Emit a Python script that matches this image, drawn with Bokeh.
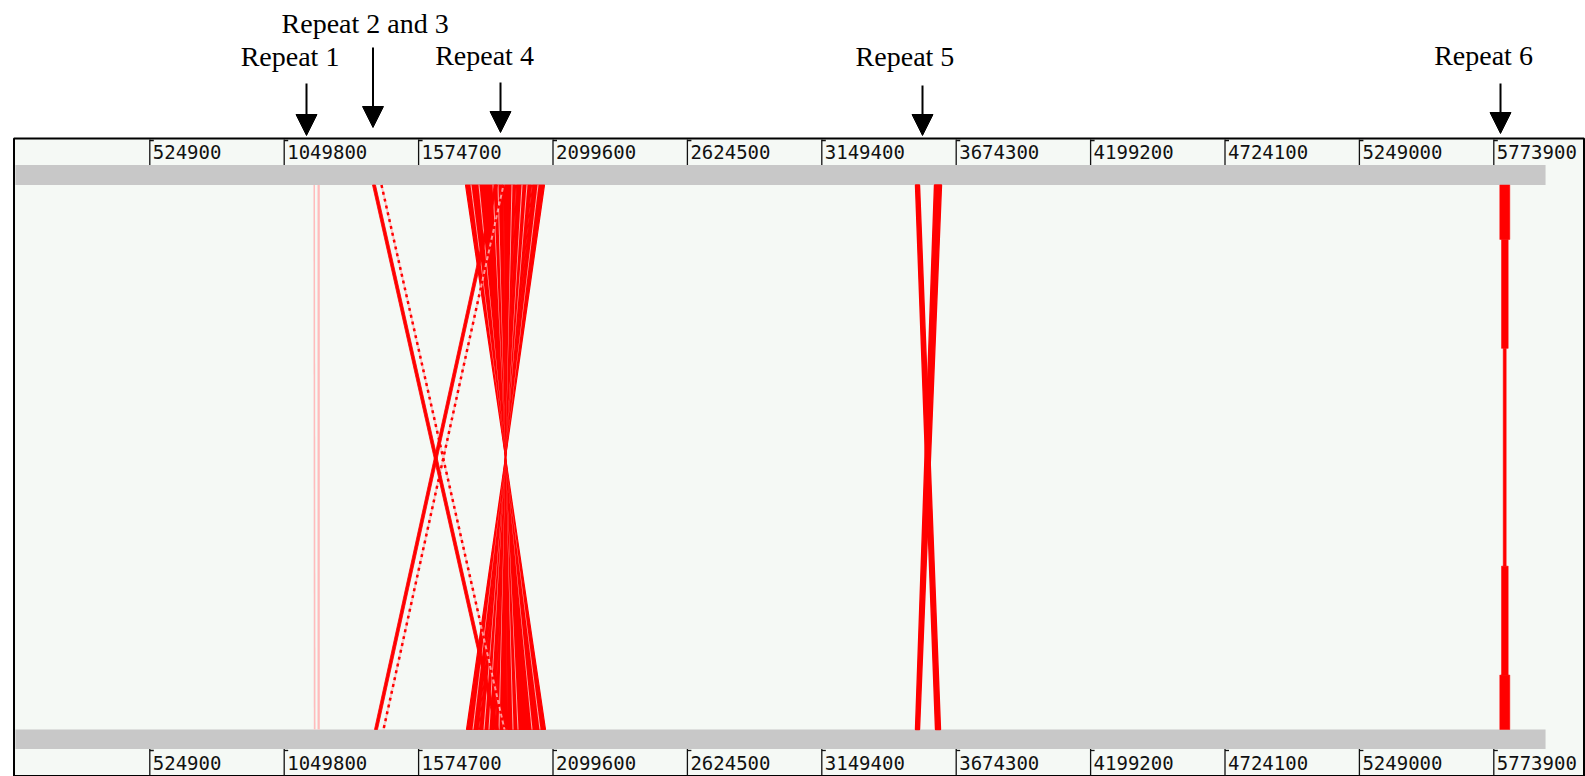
from bokeh.plotting import figure
from bokeh.models import Range1d, Arrow, NormalHead
from bokeh.core.properties import value
from bokeh.embed import file_html
from bokeh.resources import INLINE

# ---------------- data (base pairs) ----------------
SEQ_LEN = 5_976_000
tick_values = [524900, 1049800, 1574700, 2099600, 2624500, 3149400,
               3674300, 4199200, 4724100, 5249000, 5773900]
tick_labels = [str(v) for v in tick_values]

# matches: (top_start, top_end, bottom_start, bottom_end)
repeat1_matches = [(1164200, 1170100, 1165400, 1172000),
                   (1179900, 1188800, 1179900, 1188800)]
repeat23_solid = [(1394700, 1406400, 1875000, 1886700),
                  (1871100, 1882800, 1402500, 1414200)]
repeat23_dotted = [(1425900, 1433700, 1906300, 1914100),
                   (1902400, 1910200, 1433700, 1441500)]
repeat4_red = [(1757900, 1777400, 2050800, 2070300),
               (1781300, 1808600, 2019600, 2046900),
               (1812500, 1863300, 1964900, 2015700),
               (1867200, 1882800, 1945400, 1961000),
               (1886700, 1906300, 1921900, 1941500),
               (1910200, 1937500, 1890700, 1918000),
               (1941400, 1953100, 1875100, 1886800),
               (1957000, 1976600, 1851600, 1871200),
               (1980500, 1996100, 1832100, 1847700),
               (2000000, 2015600, 1812600, 1828200),
               (2019500, 2039100, 1789100, 1808700),
               (2043000, 2066400, 1761800, 1785200)]
repeat4_pale = [(1777400, 1781300, 2046900, 2050800),
                (1808600, 1812500, 2015700, 2019600),
                (1863300, 1867200, 1961000, 1964900),
                (1882800, 1886700, 1941500, 1945400),
                (1937500, 1941400, 1886800, 1890700),
                (1976600, 1980500, 1847700, 1851600),
                (1996100, 2000000, 1828200, 1832100),
                (2039100, 2043000, 1785200, 1789100)]
repeat5_matches = [(3515300, 3531000, 3593500, 3613000),
                   (3589500, 3616900, 3515300, 3531000)]
# repeat 6: bands along the comparison (fraction top->bottom) and their extent
repeat6_band_edges = [0.0, 0.10, 0.30, 0.70, 0.90, 1.0]
repeat6_band_start = [5797300, 5804000, 5810600, 5804000, 5797300]
repeat6_band_end = [5836400, 5830100, 5822300, 5830100, 5836400]

repeat_names = ["Repeat 1", "Repeat 2 and 3", "Repeat 4", "Repeat 5", "Repeat 6"]
repeat_arrow_bp = [1136900, 1396600, 1894600, 3542700, 5800100]
repeat_label_bp = [1072500, 1365800, 1832100, 3474300, 5733700]

# ---------------- layout ----------------
W, H = 1585, 776
BP_PER_PX = 524900 / 134.4
ORIGIN_PX = 14.9


def bp_at(px):
    return (px - ORIGIN_PX) * BP_PER_PX


RED = "#ff0000"
PALE = "#ffbcbc"
GREY = "#c8c8c8"
BG = "#f5f9f5"

TOP_Y, BOT_Y = 184.5, 729.0

p = figure(width=W, height=H, output_backend="svg", toolbar_location=None,
           x_range=Range1d(bp_at(0), bp_at(W)), y_range=Range1d(H, 0),
           x_axis_location=None, y_axis_location=None, min_border=0)
p.grid.visible = False
p.outline_line_color = None
p.background_fill_color = "white"
p.border_fill_color = "white"

# comparison box
p.quad(left=[bp_at(13.5)], right=[bp_at(1583.5)], top=[138.0], bottom=[775.5],
       fill_color=BG, line_color="black", line_width=2)

# sequence bars
p.quad(left=[0, 0], right=[SEQ_LEN, SEQ_LEN], top=[164.5, 729.0], bottom=[184.5, 748.5],
       fill_color=GREY, line_color=None)


def polys(matches, inverted):
    xs, ys = [], []
    for ts, te, bs, be in matches:
        if inverted:
            xs.append([ts, te, bs, be])
        else:
            xs.append([ts, te, be, bs])
        ys.append([TOP_Y, TOP_Y, BOT_Y, BOT_Y])
    return xs, ys


# repeat 1 (pale, direct)
xs, ys = polys(repeat1_matches, False)
p.patches(xs, ys, fill_color=PALE, line_color=None)

# repeat 4 hourglass (inverted)
xs, ys = polys(repeat4_red, True)
p.patches(xs, ys, fill_color=RED, line_color=RED, line_width=1.2)
xs, ys = polys(repeat4_pale, True)
p.patches(xs, ys, fill_color=PALE, line_color=None, fill_alpha=0.9)

# repeat 2 and 3 crossing lines
xs, ys = polys(repeat23_dotted, False)
p.patches(xs, ys, fill_color=PALE, line_color=None, fill_alpha=0.8)
p.segment(x0=[(m[0] + m[1]) / 2 for m in repeat23_dotted], y0=[TOP_Y] * 2,
          x1=[(m[2] + m[3]) / 2 for m in repeat23_dotted], y1=[BOT_Y] * 2,
          line_color=RED, line_width=2.5, line_dash="3 4")
xs, ys = polys(repeat23_solid, False)
p.patches(xs, ys, fill_color=RED, line_color=RED, line_width=0.8)

# repeat 5
xs, ys = polys(repeat5_matches, False)
p.patches(xs, ys, fill_color=RED, line_color=RED, line_width=1.4)

# repeat 6 bands
band_top = [TOP_Y + f * (BOT_Y - TOP_Y) for f in repeat6_band_edges[:-1]]
band_bot = [TOP_Y + f * (BOT_Y - TOP_Y) for f in repeat6_band_edges[1:]]
p.quad(left=repeat6_band_start, right=repeat6_band_end, top=band_top, bottom=band_bot,
       fill_color=RED, line_color=RED, line_width=0.5)

# ticks (top and bottom)
stub = 4 * BP_PER_PX
n = len(tick_values)
for y0, y1, ystub, ylab in [(139.0, 164.5, 140.0, 151.0), (748.5, 775.0, 750.0, 762.0)]:
    p.segment(x0=tick_values, y0=[y0] * n, x1=tick_values, y1=[y1] * n,
              line_color="#111111", line_width=1.3)
    p.segment(x0=tick_values, y0=[ystub] * n, x1=[t + stub for t in tick_values], y1=[ystub] * n,
              line_color="#111111", line_width=1.3)
    p.text(x=tick_values, y=[ylab] * n, text=tick_labels, x_offset=3,
           text_font=value("DejaVu Sans Mono"), text_font_size="19px",
           text_color="#111111", text_align="left", text_baseline="middle")

# repeat annotations
arrow_top = [83, 47, 82, 85, 83]
arrow_tip = [135, 127, 132, 135, 133]
label_mid = [56, 23, 55, 56, 55]
for xa, y0, y1 in zip(repeat_arrow_bp, arrow_top, arrow_tip):
    p.add_layout(Arrow(end=NormalHead(size=21, fill_color="black", line_color="black"),
                       x_start=xa, y_start=y0, x_end=xa, y_end=y1,
                       line_color="black", line_width=2))
p.text(x=repeat_label_bp, y=label_mid, text=repeat_names,
       text_font=value("Liberation Serif"), text_font_size="28px",
       text_color="black", text_align="center", text_baseline="middle")

open("out.html", "w").write(file_html(p, INLINE))
